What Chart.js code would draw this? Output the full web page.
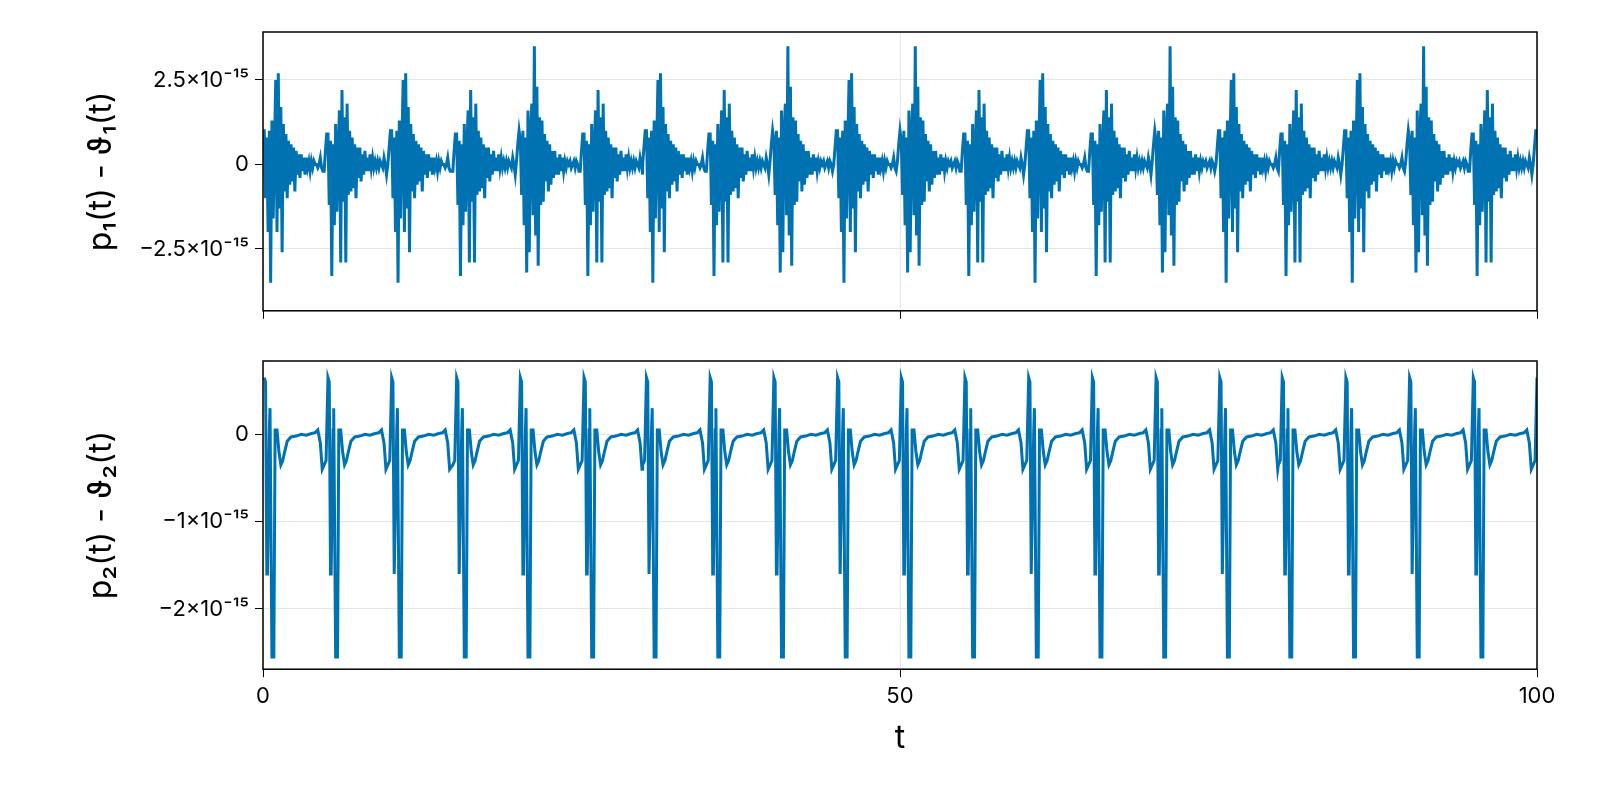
<!DOCTYPE html>
<html>
<head>
<script src="https://cdn.jsdelivr.net/npm/chart.js@4"></script>
<style>
  body { margin: 0; background: #fff; }
  #wrap { position: relative; width: 1600px; height: 800px; }
  #top, #bottom { position: absolute; left: 0; }
  #top { top: 0; }
  #bottom { top: 330px; }
</style>
</head>
<body>
<div id="wrap">
  <canvas id="top" width="1600" height="330"></canvas>
  <canvas id="bottom" width="1600" height="470"></canvas>
</div>
<script>
// values in units of 1e-15

// start time of each cycle (both panels)
const cycleStarts = [-0.2, 4.8, 9.8, 14.9, 19.9, 24.9, 29.8, 34.8, 39.8, 44.8, 49.8, 54.8, 59.8, 64.8, 69.8, 74.8, 79.7, 84.7, 89.7, 94.7, 99.7];

// p1 - theta1: three jagged cycle shapes, sampled every 0.1
const topShapeA = [0, 0.5, 1.0, 1.0, -1.0, 0.8, -2.0, 1.0, -3.5, 1.3, -1.6, 0.5, 2.5, -2.0, 2.7, -1.3, 1.7, -2.6, 1.2, -0.8,
  0.9, -1.0, 0.7, -0.6, 0.6, -0.5, 0.5, -0.8, 0.4, -0.3, 0.3, -0.4, 0.3, -0.2, 0.2, -0.3, 0.2, -0.1, 0.1, -0.2,
  0.1, -0.1, 0.1, 0, 0, -0.1, 0, 0.2, -0.1, -0.2];
const topShapeB = [-0.2, 0.4, 0.9, 0.9, -1.2, 0.7, -3.3, 0.6, -1.8, 1.2, -1.4, 0.4, 1.6, -2.9, 2.2, -1.1, 1.4, -2.9, 1.8, -0.9,
  1.0, -0.8, 0.8, -0.7, 0.6, -1.0, 0.5, -0.4, 0.5, -0.5, 0.3, -0.3, 0.4, -0.2, 0.2, -0.2, 0.3, -0.1, 0.2, -0.1,
  0.1, -0.1, 0.1, -0.1, 0.1, 0, -0.1, 0.2, 0, -0.3];
const topShapeC = [0.1, 0.6, 1.0, 0.7, -0.9, 1.0, -1.8, 0.8, -3.2, 1.6, -2.6, 0.9, 1.8, -1.5, 3.5, -2.1, 2.3, -3.0, 1.4, -1.2,
  1.3, -1.1, 0.9, -0.5, 0.7, -0.8, 0.6, -0.6, 0.4, -0.4, 0.4, -0.3, 0.2, -0.3, 0.3, -0.2, 0.2, -0.2, 0.1, -0.1,
  0.1, 0, 0.1, -0.1, 0, 0.1, -0.1, 0.1, 0, -0.2];
const topShapes = [topShapeA, topShapeB, topShapeC];
// which shape each cycle looks like
const topPick = [0, 1, 0, 1, 2, 1, 0, 1, 2, 0, 2, 1, 0, 1, 2, 0, 1, 0, 2, 1, 0];

// p2 - theta2: one cycle, (dt, value)
const botShapeT = [0, 0.15, 0.3, 0.4, 0.5, 0.55, 0.7, 0.75, 0.9, 1.05, 1.15, 1.3, 1.45, 1.6, 1.75, 1.9, 2.1, 2.4, 2.8, 3.2, 3.6, 4.0, 4.3, 4.5, 4.7, 4.85];
const botShapeV = [-0.35, -0.3, 0.65, 0.6, -1.6, -1.6, 0.05, 0.3, -2.55, -2.55, 0.05, 0.05, -0.2, -0.35, -0.3, -0.2, -0.08, -0.03, -0.02, 0, -0.01, 0.01, 0.02, 0.05, -0.1, -0.4];

function buildTop() {
  const pts = [];
  cycleStarts.forEach((s, i) => {
    topShapes[topPick[i]].forEach((v, k) => {
      const t = s + k * 0.1;
      if (t >= 0 && t <= 100) pts.push({ x: t, y: v });
    });
  });
  return pts;
}
function buildBottom() {
  const pts = [];
  cycleStarts.forEach(s => {
    botShapeT.forEach((dt, k) => {
      const t = s + dt;
      if (t >= 0 && t <= 100) pts.push({ x: t, y: botShapeV[k] });
    });
  });
  return pts;
}

const blue = '#0072b2';
const sup = '\u00d710\u207b\u00b9\u2075';
function fmt(v) {
  if (v === 0) return '0';
  return (v < 0 ? '\u2212' : '') + Math.abs(v) + sup;
}

const frame = {
  id: 'frame',
  afterDraw(c) {
    const a = c.chartArea, ctx = c.ctx;
    ctx.save();
    ctx.strokeStyle = '#000';
    ctx.lineWidth = 1.5;
    ctx.strokeRect(a.left, a.top, a.right - a.left, a.bottom - a.top);
    ctx.restore();
  }
};

function makeChart(id, data, yMin, yMax, yTicks, title, showX) {
  return new Chart(document.getElementById(id), {
    type: 'line',
    data: { datasets: [{ data: data, borderColor: blue, borderWidth: 3, pointRadius: 0, tension: 0 }] },
    options: {
      responsive: false,
      devicePixelRatio: 1,
      animation: false,
      layout: { padding: { left: 82, top: showX ? 31 : 32, right: 63, bottom: showX ? 38 : 0 } },
      plugins: { legend: { display: false }, tooltip: { enabled: false } },
      scales: {
        x: {
          type: 'linear', min: 0, max: 100,
          afterBuildTicks: ax => { ax.ticks = [{ value: 0 }, { value: 50 }, { value: 100 }]; },
          ticks: { display: showX, color: '#000', font: { family: 'Inter', size: 22 }, padding: 6, maxRotation: 0 },
          grid: { color: '#e6e6e6', tickColor: '#000', tickLength: 8 },
          border: { display: false },
          title: { display: showX, text: 't', color: '#000', font: { family: 'Inter', size: 32 } },
          afterFit: ax => { if (!showX) ax.height = 14; }
        },
        y: {
          min: yMin, max: yMax,
          afterBuildTicks: ax => { ax.ticks = yTicks.map(v => ({ value: v })); },
          ticks: { color: '#000', font: { family: 'Inter', size: 22 }, padding: 6, callback: v => fmt(v) },
          grid: { color: '#e6e6e6', tickColor: '#000', tickLength: 8 },
          border: { display: false },
          title: { display: true, text: title, color: '#000', font: { family: 'Inter', size: 32 }, padding: 0 },
          afterFit: ax => { ax.width = 263 - 82; }
        }
      }
    },
    plugins: [frame]
  });
}

makeChart('top', buildTop(), -4.33, 3.92, [-2.5, 0, 2.5], 'p\u2081(t) - \u03d1\u2081(t)', false);
makeChart('bottom', buildBottom(), -2.69, 0.84, [-2, -1, 0], 'p\u2082(t) - \u03d1\u2082(t)', true);
</script>
</body>
</html>
